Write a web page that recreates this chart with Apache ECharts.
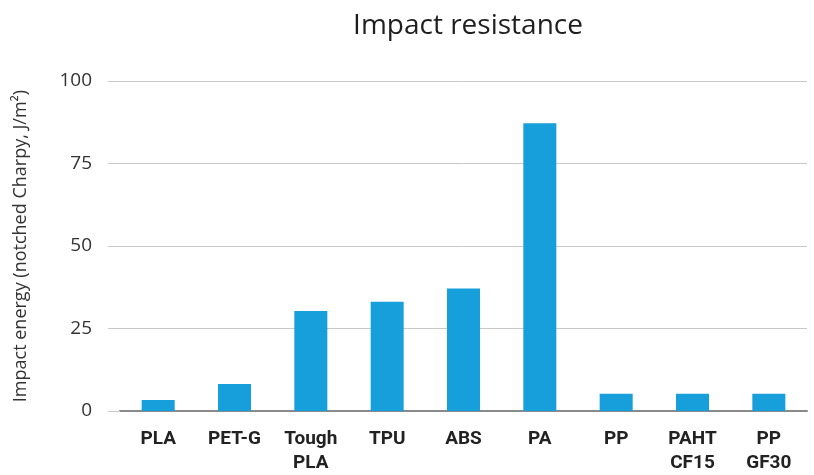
<!DOCTYPE html>
<html>
<head>
<meta charset="utf-8">
<script src="https://cdn.jsdelivr.net/npm/echarts@6/dist/echarts.min.js"></script>
<style>
  html, body { margin: 0; padding: 0; background: #fff; }
  #chart { width: 814px; height: 475px; }
</style>
</head>
<body>
<div id="chart"></div>
<script>
// data
var materials = ['PLA', 'PET-G', 'Tough\nPLA', 'TPU', 'ABS', 'PA', 'PP', 'PAHT\nCF15', 'PP\nGF30'];
var impactEnergy = [3.3, 8.2, 30.3, 33.1, 37.1, 87.2, 5.2, 5.2, 5.2];
var yTicks = [0, 25, 50, 75, 100];

var chart = echarts.init(document.getElementById('chart'));

var option = {
    animation: false,
    title: {
        text: 'Impact resistance',
        left: 463,
        top: 7,
        textAlign: 'center',
        textStyle: {
            fontFamily: 'Open Sans',
            fontSize: 28,
            fontWeight: 'normal',
            color: '#1e1e1e'
        }
    },
    grid: {
        left: 120,
        right: 7,
        top: 81,
        bottom: 61
    },
    xAxis: {
        type: 'category',
        data: materials,
        axisLine: { lineStyle: { color: '#8a8a8a', width: 2 } },
        axisTick: { show: false },
        axisLabel: {
            margin: 16,
            fontFamily: 'Roboto',
            fontWeight: 'bold',
            fontSize: 19,
            lineHeight: 24,
            color: '#222'
        }
    },
    yAxis: {
        type: 'value',
        min: yTicks[0],
        max: yTicks[yTicks.length - 1],
        interval: 25,
        name: 'Impact energy (notched Charpy, J/m²)',
        nameLocation: 'middle',
        nameGap: 90,
        nameTextStyle: {
            fontFamily: 'Open Sans',
            fontSize: 18,
            color: '#333'
        },
        axisLine: { show: false },
        axisTick: { show: true, length: 12, lineStyle: { color: '#c8c8c8' } },
        axisLabel: {
            margin: 28,
            fontFamily: 'Open Sans',
            fontSize: 19,
            color: '#333'
        },
        splitLine: { lineStyle: { color: '#c8c8c8' } }
    },
    series: [{
        type: 'bar',
        data: impactEnergy,
        barWidth: 33,
        itemStyle: { color: '#169fdb' }
    }]
};

chart.setOption(option);
</script>
</body>
</html>
